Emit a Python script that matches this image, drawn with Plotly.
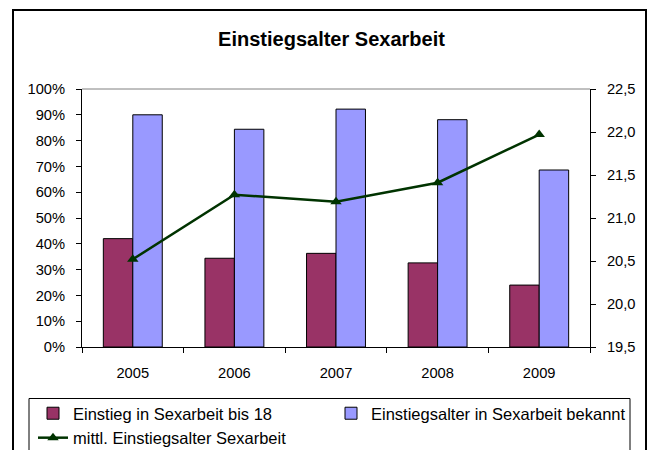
import plotly.graph_objects as go

years = ["2005", "2006", "2007", "2008", "2009"]
bis18 = [0.42, 0.344, 0.363, 0.326, 0.240]
bekannt = [0.900, 0.844, 0.922, 0.881, 0.686]
mittl_alter = [20.52, 21.27, 21.19, 21.41, 21.97]

name_bis18 = "Einstieg in Sexarbeit bis 18"
name_bekannt = "Einstiegsalter in Sexarbeit bekannt"
name_alter = "mittl. Einstiegsalter Sexarbeit"
title_text = "Einstiegsalter Sexarbeit"

FONT = "Liberation Sans, Arial, sans-serif"
W, H = 652, 450
L, R, T, B = 82, 590, 89, 347  # plot area in px


def px_x(px):
    return (px - L) / (R - L)


def px_y(py):
    return (B - py) / (B - T)


fig = go.Figure()
fig.add_trace(go.Bar(
    x=years, y=bis18, name=name_bis18, legend="legend",
    marker=dict(color="#993366", line=dict(color="#000000", width=1)),
))
fig.add_trace(go.Bar(
    x=years, y=bekannt, name=name_bekannt, legend="legend2",
    marker=dict(color="#9999FF", line=dict(color="#000000", width=1)),
))
fig.add_trace(go.Scatter(
    x=years, y=mittl_alter, name=name_alter, yaxis="y2", legend="legend",
    mode="lines+markers",
    line=dict(color="#003300", width=2.5),
    marker=dict(symbol="triangle-up", size=10, color="#003300"),
))

legend_common = dict(
    orientation="v", xanchor="left", yanchor="top",
    xref="container", yref="container",
    font=dict(size=16.5, family=FONT), bgcolor="rgba(0,0,0,0)",
    traceorder="normal", tracegroupgap=0, borderwidth=0,
)

fig.update_layout(
    width=W, height=H,
    margin=dict(l=L, r=W - R, t=T, b=H - B, pad=0, autoexpand=False),
    paper_bgcolor="white", plot_bgcolor="white",
    separators=",.",
    barmode="group", bargap=0.42, bargroupgap=0,
    font=dict(family=FONT, size=14.7, color="#000000"),
    title=dict(text="<b>" + title_text + "</b>", x=px_x(331.5), xref="paper",
               xanchor="center", y=1 - 38.5 / H, yref="container",
               yanchor="middle", font=dict(size=20, family=FONT)),
    xaxis=dict(
        type="category", showline=True, linecolor="#000000", linewidth=1,
        ticks="outside", ticklen=5, tickcolor="#000000", tickson="boundaries",
        showgrid=False, ticklabelstandoff=12, tickfont=dict(size=14.7),
    ),
    yaxis=dict(
        range=[0, 1], dtick=0.1, tickformat=".0%", showgrid=False,
        showline=True, linecolor="#000000", linewidth=1,
        ticks="outside", ticklen=5, tickcolor="#000000",
        ticklabelstandoff=8, zeroline=False, tickfont=dict(size=14.7),
    ),
    yaxis2=dict(
        range=[19.5, 22.5], dtick=0.5, tickformat=".1f", overlaying="y",
        side="right", showgrid=False, showline=True, linecolor="#000000",
        linewidth=1, ticks="outside", ticklen=5, tickcolor="#000000",
        ticklabelstandoff=8, zeroline=False, tickfont=dict(size=14.7),
    ),
    legend=dict(x=33 / W, y=1 - 396 / H, **legend_common),
    legend2=dict(x=331 / W, y=1 - 396 / H, **legend_common),
    showlegend=True,
)

# grey top line of plot area
fig.add_shape(type="line", xref="paper", yref="paper", x0=0, x1=1, y0=1, y1=1,
              line=dict(color="#808080", width=1), layer="below")
# outer chart border
fig.add_shape(type="rect", xref="paper", yref="paper",
              x0=px_x(13), x1=px_x(646), y0=px_y(480), y1=px_y(10),
              line=dict(color="#000000", width=2))
# legend box
fig.add_shape(type="rect", xref="paper", yref="paper",
              x0=px_x(29), x1=px_x(630), y0=px_y(480), y1=px_y(398.5),
              line=dict(color="#000000", width=1))

fig.write_html("out.html",
               config={"displayModeBar": False},
               post_script="document.body.style.margin='0';"
                           "document.body.style.overflow='hidden';")
